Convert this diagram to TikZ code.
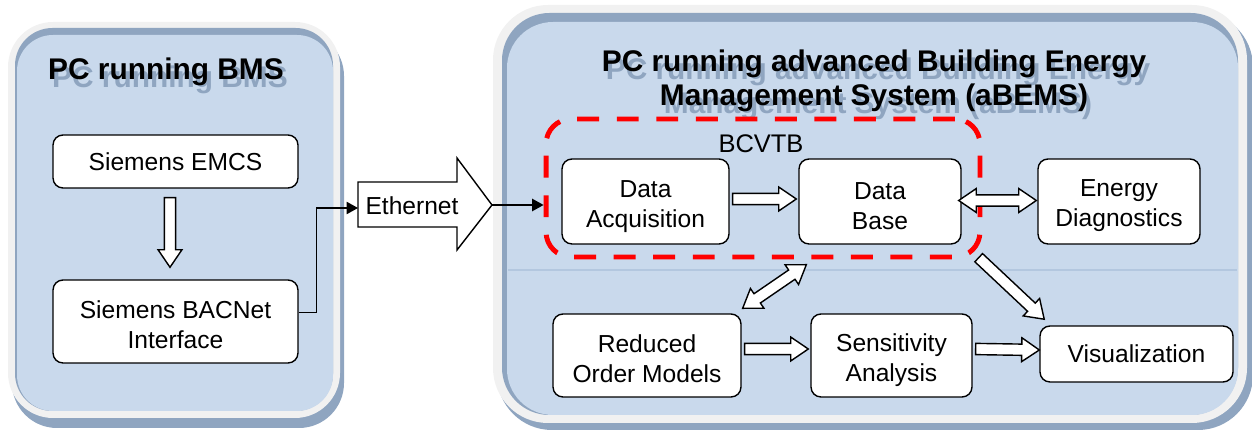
\documentclass[tikz,border=0pt]{standalone}
\usepackage{fontspec}
\setmainfont{Liberation Sans}
\usetikzlibrary{calc,positioning,arrows.meta}

\definecolor{panelblue}{HTML}{C9D9EC}
\definecolor{panelshade}{HTML}{8FA5C0}
\definecolor{panelrim}{HTML}{F1F1F1}
\definecolor{panelline}{HTML}{B3C7DF}
\definecolor{bcvtbred}{HTML}{FF0000}

\newcommand\boxfont{\fontsize{14}{17}\selectfont}
\newcommand\titlefont{\fontsize{17}{19.5}\selectfont\bfseries}
% extra room above the first line of a two-line box
\newcommand\uprule[1][15pt]{\rule{0pt}{#1}}

\tikzset{
        unitbox/.style={draw, fill=white, rounded corners=0.2cm, line width=0.8pt,
                align=center, font=\boxfont, inner sep=0pt},
        fatarrow/.style={draw, fill=white, line width=0.8pt, line join=miter},
        link/.style={line width=0.8pt, -{Triangle[length=6.5pt,width=7pt]}}
}

% hollow block arrow, tail at #1, tip at #2
\newcommand\fatarrow[2]{%
        \draw[fatarrow] let \p1=(#1), \p2=(#2),
                \n1={atan2(\y2-\y1,\x2-\x1)}, \n2={veclen(\x2-\x1,\y2-\y1)}, \n3={\n2-10pt} in
                [shift={(\p1)}, rotate=\n1] (0pt,-3.2pt) -- (\n3,-3.2pt) -- (\n3,-6.8pt)
                -- (\n2,0pt) -- (\n3,6.8pt) -- (\n3,3.2pt) -- (0pt,3.2pt) -- cycle;}
% hollow block arrow with heads at both ends
\newcommand\fatdarrow[2]{%
        \draw[fatarrow] let \p1=(#1), \p2=(#2),
                \n1={atan2(\y2-\y1,\x2-\x1)}, \n2={veclen(\x2-\x1,\y2-\y1)}, \n3={\n2-10pt} in
                [shift={(\p1)}, rotate=\n1] (0pt,0pt) -- (10pt,6.8pt) -- (10pt,3.2pt)
                -- (\n3,3.2pt) -- (\n3,6.8pt) -- (\n2,0pt) -- (\n3,-6.8pt)
                -- (\n3,-3.2pt) -- (10pt,-3.2pt) -- (10pt,-6.8pt) -- cycle;}

\begin{document}
\begin{tikzpicture}[x=0.02cm, y=-0.02cm]
        \useasboundingbox (0,0) rectangle (1252,435);
        % draw left panel
        \fill[panelshade, rounded corners=0.9cm] (12,31) rectangle (344,428);
        \fill[panelrim, rounded corners=0.9cm] (8,22) rectangle (340,418);
        \fill[panelshade, rounded corners=0.75cm] (15,28) rectangle (333,411);
        \fill[panelblue, rounded corners=0.72cm] (17,35) rectangle (333,411);
        % draw right panel
        \fill[panelshade, rounded corners=1.1cm] (497,12) rectangle (1253,430);
        \fill[panelrim, rounded corners=1.1cm] (493,5) rectangle (1247,423);
        \fill[panelshade, rounded corners=0.95cm] (502,13) rectangle (1238,415);
        \fill[panelblue, rounded corners=0.92cm] (507,22) rectangle (1238,415);
        \draw[panelline, line width=0.8pt] (508,270) -- (1237,270);
        % draw titles
        \node[font=\titlefont, text=panelshade] (bmsshade) at (170,80) {PC running BMS};
        \node[font=\titlefont] (bmstitle) at (166,72) {PC running BMS};
        \node[font=\titlefont, text=panelshade, align=center, inner sep=0pt] (abemsshade) at (878,89)
                {PC running advanced Building Energy\\Management System (aBEMS)};
        \node[font=\titlefont, align=center, inner sep=0pt] (abemstitle) at (874,81)
                {PC running advanced Building Energy\\Management System (aBEMS)};
        % draw left boxes
        \node[unitbox, minimum width=4.9cm, minimum height=1.06cm] (emcs) at (175.5,161.5) {Siemens EMCS};
        \node[unitbox, minimum width=4.9cm, minimum height=1.66cm] (bacnet) at (175.5,321.5)
                {\uprule[14pt]Siemens BACNet\\Interface};
        % draw BCVTB frame
        \node[draw=bcvtbred, line width=2.8pt, dash pattern=on 12.5pt off 10pt, rounded corners=0.5cm,
                minimum width=8.68cm, minimum height=2.76cm] (bcvtb) at (763,188) {};
        \node[font=\fontsize{14.5}{17}\selectfont, inner sep=0pt] (bcvtblabel) at (761,144) {BCVTB};
        % draw right boxes
        \node[unitbox, minimum width=3.34cm, minimum height=1.7cm] (da) at (645.5,201.5) {\uprule Data\\Acquisition};
        \node[unitbox, minimum width=3.24cm, minimum height=1.7cm] (db) at (880,201.5) {\uprule Data\\Base};
        \node[unitbox, minimum width=3.24cm, minimum height=1.7cm] (ed) at (1119,201.5) {\uprule[14.5pt]Energy\\Diagnostics};
        \node[unitbox, minimum width=3.76cm, minimum height=1.66cm] (rom) at (647,355.5) {\uprule[13.8pt]Reduced\\Order Models};
        \node[unitbox, minimum width=3.22cm, minimum height=1.66cm] (sa) at (891.5,355.5) {\uprule[15.5pt]Sensitivity\\Analysis};
        \node[unitbox, minimum width=3.86cm, minimum height=1.12cm] (vis) at (1136.5,354) {Visualization};
        % draw ethernet arrow
        \draw[line width=0.8pt, fill=white] (358,182) -- (457,182) -- (457,158) -- (492,205)
                -- (457,250) -- (457,227) -- (358,227) -- cycle;
        \node[font=\boxfont, inner sep=0pt] (eth) at (412,206) {Ethernet};
        \coordinate (ethtail) at (358,208);
        \coordinate (ethtip) at (492,205);
        \draw[link] ($(bacnet.east)+(0,-9)$) -- ++(18,0) |- (ethtail);
        \draw[link] (ethtip) -- (ethtip -| bcvtb.west);
        % draw block arrows
        \fatarrow{$(emcs.south)+(-5.5,9)$}{$(bacnet.north)+(-5.5,-12)$}
        \fatarrow{$(da.east)+(3,-2.5)$}{$(db.west)+(-2,-2.5)$}
        \fatdarrow{$(db.east)+(-3,-1)$}{$(ed.west)+(-1,-1)$}
        \fatdarrow{$(rom.north east)+(1,-5)$}{$(db.south west)+(8,20)$}
        \fatarrow{$(db.south east)+(17,13)$}{$(vis.north west)+(5,-6)$}
        \fatarrow{$(rom.east)+(3,-6.5)$}{$(sa.west)+(-2,-6.5)$}
        \fatarrow{$(sa.east)+(3,-6.5)$}{$(vis.west)+(0,-4)$}
\end{tikzpicture}
\end{document}
